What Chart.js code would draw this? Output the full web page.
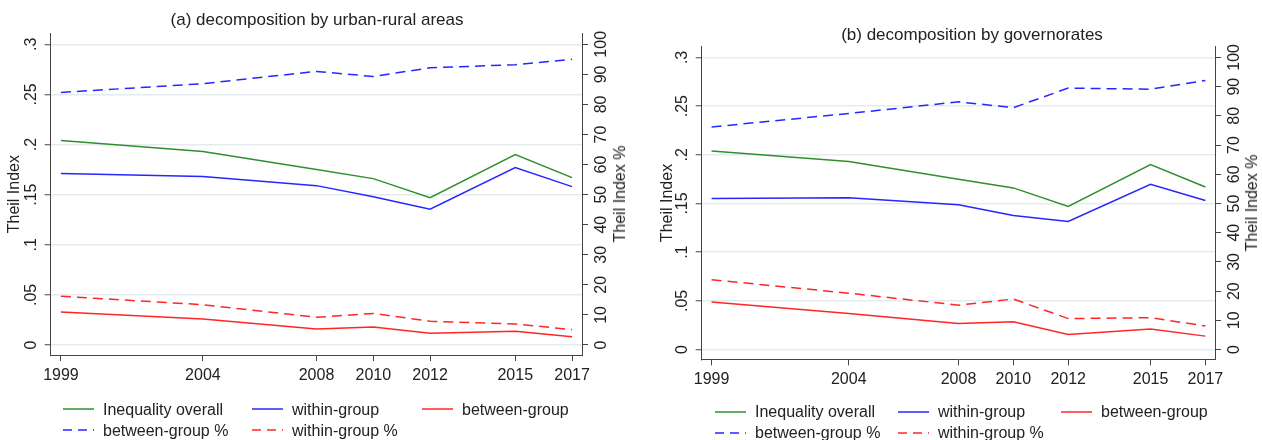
<!DOCTYPE html>
<html>
<head>
<meta charset="utf-8">
<script src="https://cdn.jsdelivr.net/npm/chart.js@4.4.1/dist/chart.umd.min.js"></script>
<style>
  body { margin: 0; background: #fff; font-family: "Liberation Sans", Arial, sans-serif; color: #222; }
  #wrap { position: relative; width: 1262px; height: 440px; overflow: hidden; }
  canvas { position: absolute; top: 0; }
  .txt { position: absolute; white-space: nowrap; line-height: 20px; }
  .title { font-size: 17px; transform: translateX(-50%); }
  .ytitle { font-size: 16px; transform: translate(-50%, -50%) rotate(-90deg); }
  .leg { font-size: 16px; }
  svg { position: absolute; }
</style>
</head>
<body>
<div id="wrap">
  <canvas id="panelA" width="640" height="440" style="left:0"></canvas>
  <canvas id="panelB" width="622" height="440" style="left:640px"></canvas>
</div>
<script>
// survey years
var years = [1999, 2004, 2008, 2010, 2012, 2015, 2017];

// overall Theil index (same in both panels)
var overall = [0.204, 0.193, 0.175, 0.166, 0.147, 0.190, 0.167];

// (a) urban-rural
var urbanWithin = [0.171, 0.168, 0.159, 0.148, 0.1355, 0.177, 0.158];
var urbanBetween = [0.033, 0.026, 0.016, 0.018, 0.0117, 0.0136, 0.0083];
var urbanBetweenPct = [84.0, 86.9, 91.0, 89.3, 92.2, 93.2, 95.0];
var urbanWithinPct = [16.2, 13.4, 9.2, 10.5, 7.9, 7.0, 5.1];

// (b) governorates
var govWithin = [0.155, 0.156, 0.1487, 0.1377, 0.1315, 0.1696, 0.153];
var govBetween = [0.0488, 0.0371, 0.0268, 0.0285, 0.0155, 0.021, 0.0138];
var govBetweenPct = [76.2, 80.8, 84.8, 82.8, 89.5, 89.1, 92.1];
var govWithinPct = [23.9, 19.3, 15.2, 17.3, 10.6, 10.9, 8.1];

// axis ticks
var leftTickValues = [0, 0.05, 0.1, 0.15, 0.2, 0.25, 0.3];
var leftTickLabels = ['0', '.05', '.1', '.15', '.2', '.25', '.3'];
var rightTickValues = [0, 10, 20, 30, 40, 50, 60, 70, 80, 90, 100];

var GREEN = '#2f8f2f', BLUE = '#2626ff', RED = '#ff2626';
var AXIS = '#444';
Chart.defaults.font.family = '"Liberation Sans", Arial, sans-serif';
Chart.defaults.color = '#222';

function pts(arr) {
  return arr.map(function (v, i) { return { x: years[i], y: v }; });
}

function series(within, between, betweenPct, withinPct) {
  return [
    { label: 'Inequality overall', data: pts(overall), borderColor: GREEN, yAxisID: 'y' },
    { label: 'within-group', data: pts(within), borderColor: BLUE, yAxisID: 'y' },
    { label: 'between-group', data: pts(between), borderColor: RED, yAxisID: 'y' },
    { label: 'between-group %', data: pts(betweenPct), borderColor: BLUE, borderDash: [10, 6], yAxisID: 'y1' },
    { label: 'within-group %', data: pts(withinPct), borderColor: RED, borderDash: [10, 6], yAxisID: 'y1' }
  ].map(function (d) {
    d.borderWidth = 1.5;
    d.pointRadius = 0;
    d.tension = 0;
    d.fill = false;
    return d;
  });
}

function makeChart(id, datasets, f) {
  var yMin = -0.01, yMax = 0.311;
  return new Chart(document.getElementById(id), {
    type: 'line',
    data: { datasets: datasets },
    options: {
      responsive: false,
      animation: false,
      devicePixelRatio: 1,
      layout: { padding: { top: f.top, left: f.padLeft, right: 0, bottom: f.bottom } },
      plugins: { legend: { display: false }, title: { display: false }, tooltip: { enabled: false } },
      scales: {
        x: {
          type: 'linear', min: 1998.64, max: 2017.35,
          afterBuildTicks: function (s) { s.ticks = years.map(function (v) { return { value: v }; }); },
          afterFit: function (s) { s.height = 30; },
          ticks: { callback: function (v) { return String(v); }, font: { size: 16 }, color: '#222',
                   padding: 4.5, maxRotation: 0, autoSkip: false },
          grid: { drawOnChartArea: false, tickLength: 6, tickColor: AXIS },
          border: { color: AXIS, width: 1 }
        },
        y: {
          position: 'left', min: yMin, max: yMax,
          afterBuildTicks: function (s) { s.ticks = leftTickValues.map(function (v) { return { value: v }; }); },
          afterFit: function (s) { s.width = f.leftW; },
          ticks: { callback: function (v) { return leftTickLabels[leftTickValues.indexOf(v)]; },
                   font: { size: 16 }, color: '#222', minRotation: 90, maxRotation: 90,
                   crossAlign: 'center', padding: 2 },
          grid: { color: '#e3ebee', lineWidth: 1.5, tickLength: 6, tickColor: AXIS, tickWidth: 1 },
          border: { color: AXIS, width: 1 },
          title: { display: true, text: 'Theil Index', font: { size: 16 }, color: '#222', padding: { top: 5, bottom: 0 } }
        },
        y1: {
          position: 'right', min: yMin * 1000 / 3, max: yMax * 1000 / 3,
          afterBuildTicks: function (s) { s.ticks = rightTickValues.map(function (v) { return { value: v }; }); },
          afterFit: function (s) { s.width = f.rightW; },
          ticks: { callback: function (v) { return String(v); }, font: { size: 16 }, color: '#222',
                   minRotation: 90, maxRotation: 90, crossAlign: 'center', padding: 0 },
          grid: { drawOnChartArea: false, tickLength: 6, tickColor: AXIS },
          border: { color: AXIS, width: 1 }
        }
      }
    }
  });
}

var chartA = makeChart('panelA', series(urbanWithin, urbanBetween, urbanBetweenPct, urbanWithinPct),
  { top: 33.3, bottom: 55, padLeft: 0, leftW: 50.7, rightW: 58 });
var chartB = makeChart('panelB', series(govWithin, govBetween, govBetweenPct, govWithinPct),
  { top: 46.7, bottom: 50.7, padLeft: 13, leftW: 48.7, rightW: 47 });

// html text: titles, right axis titles, legends
var wrap = document.getElementById('wrap');
function addText(cls, text, left, top) {
  var d = document.createElement('div');
  d.className = 'txt ' + cls;
  d.textContent = text;
  d.style.left = left + 'px';
  d.style.top = top + 'px';
  wrap.appendChild(d);
}
addText('title', '(a) decomposition by urban-rural areas', 317, 9.5);
addText('title', '(b) decomposition by governorates', 972, 24.5);
addText('ytitle', 'Theil Index %', 619.5, 194);
addText('ytitle', 'Theil Index %', 1252, 203);

function drawLegend(chart, cols, rows) {
  chart.data.datasets.forEach(function (ds, i) {
    var x = cols[i % 3], row = rows[Math.floor(i / 3)];
    var svg = document.createElementNS('http://www.w3.org/2000/svg', 'svg');
    svg.setAttribute('width', 31);
    svg.setAttribute('height', 4);
    svg.style.left = x + 'px';
    svg.style.top = (row.line - 2) + 'px';
    var ln = document.createElementNS('http://www.w3.org/2000/svg', 'line');
    ln.setAttribute('x1', 0); ln.setAttribute('x2', 31);
    ln.setAttribute('y1', 2); ln.setAttribute('y2', 2);
    ln.setAttribute('stroke', ds.borderColor);
    ln.setAttribute('stroke-width', 1.5);
    if (ds.borderDash) ln.setAttribute('stroke-dasharray', '9 6');
    svg.appendChild(ln);
    wrap.appendChild(svg);
    addText('leg', ds.label, x + 40, row.base - 15.5);
  });
}
drawLegend(chartA, [63, 252, 422], [{ line: 409.3, base: 415 }, { line: 430, base: 436 }]);
drawLegend(chartB, [715, 898, 1061], [{ line: 412, base: 417 }, { line: 433.3, base: 438 }]);
</script>
</body>
</html>
